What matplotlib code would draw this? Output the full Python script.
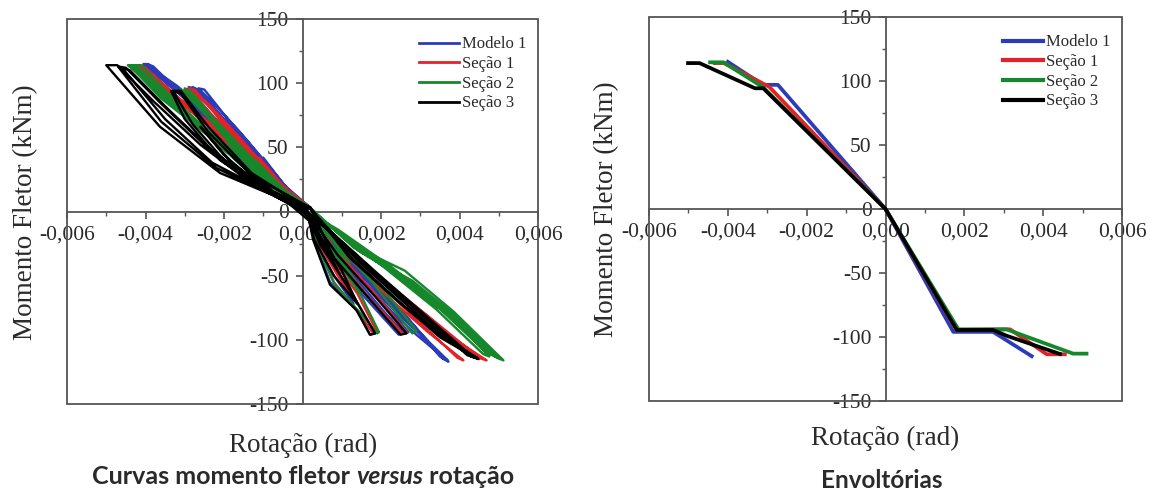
import matplotlib
matplotlib.use("Agg")
import numpy as np
import matplotlib.pyplot as plt
from matplotlib.ticker import MultipleLocator, FuncFormatter
from matplotlib.patches import Rectangle

# cyclic records: (rotation in mrad, bending moment in kNm)
modelo1 = [(0, 0), (-0.45, 20), (-1.0, 42), (-0.7, 26), (-0.2, 6), (0.2, -8), (0.5, -28), (0.9, -48), (0.6, -30), (0.2, -6), (0, 0),
           (-0.5, 22), (-1.4, 55), (-1.95, 74), (-1.5, 54), (-0.6, 20), (0.1, 2), (0.3, -22), (0.8, -50), (1.3, -72), (0.9, -46), (0.3, -12), (0.05, 0),
           (-0.6, 26), (-1.6, 62), (-2.2, 82), (-2.65, 96), (-2.5, 95), (-1.8, 68), (-0.9, 34), (0.1, 3), (0.3, -22), (0.7, -55), (1.38, -77), (1.72, -96), (1.85, -95), (1.3, -66), (0.6, -32), (0.1, 0),
           (-0.7, 28), (-1.8, 66), (-2.8, 97), (-2.6, 94), (-1.8, 64), (-0.9, 32), (0.2, 3), (0.6, -28), (1.5, -64), (2.45, -96), (2.55, -95), (1.8, -68), (0.8, -32), (0.1, 0),
           (-0.8, 30), (-1.9, 68), (-2.9, 97), (-2.7, 95), (-1.9, 64), (-1.0, 32), (0.2, 3), (0.7, -30), (1.6, -64), (2.6, -95), (2.7, -94), (1.9, -66), (0.9, -32), (0.1, 0),
           (-0.9, 34), (-2.2, 72), (-3.2, 98), (-4.0, 115), (-3.9, 114), (-3.0, 90), (-2.0, 62), (-1.0, 30), (0.2, 3), (0.9, -32), (2.0, -70), (2.9, -96), (3.72, -117), (3.6, -115), (2.7, -84), (1.6, -52), (0.6, -18), (0.1, 0),
           (-1.0, 36), (-2.3, 74), (-3.3, 98), (-3.95, 115), (-3.8, 113), (-2.9, 86), (-1.9, 58), (-0.9, 28), (0.2, 2), (1.0, -32), (2.1, -70), (3.0, -96), (3.6, -115), (3.5, -113), (2.6, -80), (1.5, -48), (0.6, -16), (0.1, 0),
           (-1.1, 38), (-2.4, 74), (-3.4, 98), (-4.05, 115), (-3.85, 112), (-2.8, 82), (-1.8, 54), (-0.8, 26), (0.2, 2), (1.1, -34), (2.2, -72), (3.1, -98), (3.7, -116), (3.55, -113), (2.5, -78), (1.4, -46), (0.5, -14), (0, 0)]

secao1 = [(0, 0), (-0.5, 20), (-1.1, 42), (-0.8, 26), (-0.2, 6), (0.2, -8), (0.55, -28), (1.0, -48), (0.7, -30), (0.2, -6), (0, 0),
          (-0.6, 22), (-1.5, 54), (-2.1, 74), (-1.6, 52), (-0.7, 20), (0.1, 2), (0.35, -22), (0.9, -50), (1.4, -72), (1.0, -46), (0.3, -12), (0.05, 0),
          (-0.7, 26), (-1.7, 60), (-2.4, 84), (-2.9, 96), (-2.75, 95), (-2.0, 68), (-1.0, 34), (0.1, 3), (0.35, -24), (0.8, -55), (1.45, -80), (1.8, -95), (1.9, -94), (1.4, -64), (0.6, -30), (0.1, 0),
          (-0.8, 28), (-2.0, 66), (-3.0, 96), (-2.8, 93), (-2.0, 64), (-1.0, 32), (0.2, 3), (0.7, -28), (1.6, -64), (2.55, -95), (2.65, -94), (1.9, -66), (0.9, -32), (0.1, 0),
          (-1.0, 32), (-2.4, 70), (-3.4, 94), (-4.3, 114), (-4.1, 114), (-3.2, 90), (-2.2, 62), (-1.1, 30), (0.2, 3), (1.1, -34), (2.3, -70), (3.2, -94), (4.1, -116), (3.95, -114), (2.9, -84), (1.8, -52), (0.7, -18), (0.1, 0),
          (-1.1, 34), (-2.5, 70), (-3.5, 94), (-4.2, 114), (-4.0, 112), (-3.1, 86), (-2.1, 58), (-1.0, 28), (0.2, 2), (1.3, -36), (2.6, -68), (3.7, -96), (4.69, -116), (4.5, -114), (3.3, -84), (2.0, -52), (0.8, -18), (0.1, 0),
          (-1.2, 36), (-2.6, 72), (-3.5, 94), (-4.15, 113), (-3.95, 110), (-3.0, 84), (-2.0, 56), (-0.9, 26), (0.2, 2), (1.3, -36), (2.6, -70), (3.6, -96), (4.5, -115), (4.3, -112), (3.2, -82), (1.9, -50), (0.7, -16), (0, 0)]

secao2 = [(0, 0), (-0.5, 18), (-1.2, 40), (-0.9, 24), (-0.3, 6), (0.2, -6), (0.6, -22), (1.2, -40), (0.8, -24), (0.2, -5), (0, 0),
          (-0.7, 22), (-1.6, 50), (-2.3, 72), (-1.8, 50), (-0.8, 20), (0.1, 2), (0.5, -18), (1.0, -40), (1.5, -62), (1.0, -38), (0.3, -10), (0.05, 0),
          (-0.8, 26), (-1.8, 58), (-2.5, 80), (-3.0, 95), (-2.85, 94), (-2.1, 66), (-1.1, 32), (0.1, 3), (0.35, -24), (0.8, -56), (1.5, -80), (1.9, -95), (1.95, -94), (1.5, -66), (0.7, -30), (0.1, 0),
          (-0.9, 28), (-2.1, 64), (-3.1, 95), (-2.9, 92), (-2.1, 62), (-1.1, 30), (0.2, 3), (0.9, -26), (1.8, -56), (2.8, -95), (2.9, -93), (2.1, -62), (1.0, -28), (0.1, 0),
          (-1.1, 30), (-2.6, 68), (-3.5, 90), (-4.45, 114), (-4.1, 114), (-3.3, 88), (-2.3, 60), (-1.2, 28), (0.2, 3), (1.3, -28), (2.6, -52), (3.7, -80), (4.76, -113), (4.6, -111), (3.4, -76), (2.1, -44), (0.8, -14), (0.1, 0),
          (-1.2, 32), (-2.7, 68), (-3.6, 90), (-4.4, 114), (-4.2, 112), (-3.4, 88), (-2.4, 60), (-1.2, 26), (0.2, 2), (1.3, -27), (2.6, -46), (3.85, -78), (5.12, -116), (4.95, -114), (3.7, -78), (2.3, -44), (0.9, -14), (0.1, 0),
          (-1.3, 33), (-2.8, 70), (-3.7, 92), (-4.3, 113), (-4.1, 110), (-3.3, 86), (-2.3, 58), (-1.1, 25), (0.2, 2), (1.4, -30), (2.8, -54), (4.0, -84), (5.0, -114), (4.8, -111), (3.6, -78), (2.2, -44), (0.8, -13), (0, 0),
          (-1.2, 30), (-2.6, 64), (-3.6, 88), (-4.35, 112), (-4.15, 109), (-3.3, 84), (-2.3, 56), (-1.1, 24), (0.2, 2), (1.5, -32), (2.9, -58), (4.1, -88), (4.9, -113), (4.7, -110), (3.5, -76), (2.1, -42), (0.8, -13), (0, 0)]

secao3 = [(0, 0), (-0.6, 12), (-1.4, 32), (-1.0, 20), (-0.3, 5), (0.2, -8), (0.45, -26), (0.9, -46), (0.6, -28), (0.2, -5), (0, 0),
          (-0.7, 12), (-1.8, 38), (-2.6, 66), (-2.0, 44), (-1.0, 18), (0.1, 2), (0.3, -22), (0.8, -50), (1.4, -72), (1.0, -46), (0.3, -12), (0.05, 0),
          (-0.7, 12), (-2.0, 40), (-2.8, 68), (-3.3, 94), (-3.1, 94), (-2.4, 66), (-1.3, 30), (0.1, 3), (0.27, -22), (0.7, -57), (1.38, -77), (1.72, -96), (1.85, -95), (1.3, -66), (0.6, -32), (0.1, 0),
          (-0.7, 12), (-2.1, 40), (-3.0, 72), (-3.35, 94), (-3.1, 92), (-2.4, 62), (-1.3, 28), (0.2, 3), (0.8, -36), (1.7, -68), (2.5, -96), (2.65, -95), (1.9, -68), (0.9, -34), (0.1, 0),
          (-0.66, 11.5), (-2.1, 30), (-3.63, 66), (-5.0, 114), (-4.72, 114), (-3.8, 86), (-2.6, 52), (-1.3, 22), (0.2, 3), (1.2, -36), (2.5, -72), (3.5, -96), (4.48, -115), (4.3, -113), (3.2, -84), (2.0, -52), (0.8, -18), (0.1, 0),
          (-0.7, 12), (-2.2, 34), (-3.6, 70), (-4.7, 113), (-4.5, 112), (-3.6, 84), (-2.5, 52), (-1.2, 22), (0.2, 2), (1.3, -38), (2.6, -74), (3.5, -98), (4.4, -114), (4.2, -112), (3.1, -82), (1.9, -50), (0.7, -16), (0.1, 0),
          (-0.8, 14), (-2.3, 38), (-3.5, 72), (-4.6, 112), (-4.4, 110), (-3.5, 82), (-2.4, 50), (-1.1, 20), (0.2, 2), (1.4, -38), (2.7, -74), (3.6, -98), (4.45, -114), (4.25, -111), (3.1, -80), (1.9, -48), (0.7, -15), (0, 0)]

# envelopes (rotation in mrad, moment in kNm)
env_modelo1_rot = [-4.0, -3.11, -2.73, 0, 1.72, 2.73, 3.71]
env_modelo1_mom = [115, 97, 97, 0, -96, -96, -115]
env_secao1_rot = [-4.33, -4.1, -2.95, 0, 1.8, 3.16, 4.09, 4.55]
env_secao1_mom = [114, 114, 95.5, 0, -94.5, -94, -113.5, -113.5]
env_secao2_rot = [-4.45, -4.11, -3.1, 0, 1.85, 3.07, 4.76, 5.1]
env_secao2_mom = [114.6, 114.6, 95, 0, -94, -94, -113, -113]
env_secao3_rot = [-5.01, -4.72, -3.31, -3.1, 0, 1.81, 2.73, 3.07, 4.43]
env_secao3_mom = [114, 114, 94.3, 94.3, 0, -94.5, -94.5, -99, -113.3]

labels = ["Modelo 1", "Seção 1", "Seção 2", "Seção 3"]
colors = ["#2b3cb8", "#e32228", "#17872b", "#000000"]

AXC = "#555555"
TXT = "#2a2a2a"
SERIF = "Liberation Serif"

W, H = 1150, 499
fig = plt.figure(figsize=(W / 100, H / 100), dpi=100)


def px_axes(x0, y0, x1, y1):
    return fig.add_axes([x0 / W, 1 - y1 / H, (x1 - x0) / W, (y1 - y0) / H])


def fmt_x(v, _):
    if abs(v) < 1e-12:
        v = 0.0
    return f"{v:.3f}".replace(".", ",")


def style(ax):
    ax.set_xlim(-0.006, 0.006)
    ax.set_ylim(-150, 150)
    ax.spines["left"].set_position(("data", 0))
    ax.spines["bottom"].set_position(("data", 0))
    ax.spines["top"].set_visible(False)
    ax.spines["right"].set_visible(False)
    for s in ("left", "bottom"):
        ax.spines[s].set_color(AXC)
        ax.spines[s].set_linewidth(1.3)
    ax.add_patch(Rectangle((0, 0), 1, 1, transform=ax.transAxes, fill=False,
                           ec=AXC, lw=1.3, clip_on=False, zorder=2.5))
    ax.xaxis.set_major_locator(MultipleLocator(0.002))
    ax.xaxis.set_minor_locator(MultipleLocator(0.001))
    ax.yaxis.set_major_locator(MultipleLocator(50))
    ax.yaxis.set_minor_locator(MultipleLocator(25))
    ax.xaxis.set_major_formatter(FuncFormatter(fmt_x))
    ax.yaxis.set_major_formatter(FuncFormatter(lambda v, _: f"{v:.0f}"))
    ax.tick_params(which="major", length=5, width=1.2, color=AXC,
                   labelsize=15.5, labelcolor=TXT, pad=5)
    ax.tick_params(which="minor", length=3, width=1.0, color=AXC)
    for t in ax.get_xticklabels() + ax.get_yticklabels():
        t.set_fontfamily(SERIF)
    ax.patch.set_alpha(0)


cycles = [modelo1, secao1, secao2, secao3]
envelopes = [(env_modelo1_rot, env_modelo1_mom), (env_secao1_rot, env_secao1_mom),
             (env_secao2_rot, env_secao2_mom), (env_secao3_rot, env_secao3_mom)]

ax1 = px_axes(67, 19, 538, 404)
ax2 = px_axes(649, 17, 1122, 401)

for pts, c, lab in zip(cycles, colors, labels):
    r, m = np.array(pts, dtype=float).T
    ax1.plot(r * 1e-3, m, color=c, lw=1.7, label=lab, zorder=3)
for (r, m), c, lab in zip(envelopes, colors, labels):
    ax2.plot(np.array(r) * 1e-3, m, color=c, lw=2.7, label=lab, zorder=3)

for ax, lw in ((ax1, 2.0), (ax2, 3.0)):
    style(ax)
    leg = ax.legend(loc="upper right", bbox_to_anchor=(1.0, 0.985), frameon=False,
                    prop={"family": SERIF, "size": 12}, handlelength=2.4,
                    handletextpad=0.15, labelspacing=0.22, borderaxespad=0.3)
    for h in leg.get_lines():
        h.set_linewidth(lw)
    for t in leg.get_texts():
        t.set_color(TXT)

# axis titles
fig.text(26 / W, 1 - 212 / H, "Momento Fletor (kNm)", rotation=90, ha="center",
         va="center", fontsize=19.5, family=SERIF, color=TXT)
fig.text(607 / W, 1 - 209 / H, "Momento Fletor (kNm)", rotation=90, ha="center",
         va="center", fontsize=19.5, family=SERIF, color=TXT)
fig.text(303 / W, 1 - 445 / H, "Rotação (rad)", ha="center", va="center",
         fontsize=19.5, family=SERIF, color=TXT)
fig.text(885 / W, 1 - 438 / H, "Rotação (rad)", ha="center", va="center",
         fontsize=19.5, family=SERIF, color=TXT)

# panel captions, "versus" in italic
SANS = "Lato"
renderer = fig.canvas.get_renderer()
parts = [("Curvas momento fletor ", "normal"), ("versus", "italic"), (" rotação", "normal")]
texts = []
for s, st in parts:
    texts.append(fig.text(0, 1 - 477 / H, s, ha="left", va="center", fontsize=18,
                          family=SANS, weight="bold", style=st, color=TXT))
widths = [t.get_window_extent(renderer).width for t in texts]
x = 303 - sum(widths) / 2
for t, w in zip(texts, widths):
    t.set_x(x / W)
    x += w
fig.text(882 / W, 1 - 480 / H, "Envoltórias", ha="center", va="center", fontsize=17.5,
         family=SANS, weight="bold", color=TXT)

fig.savefig("out.png", dpi=100)
